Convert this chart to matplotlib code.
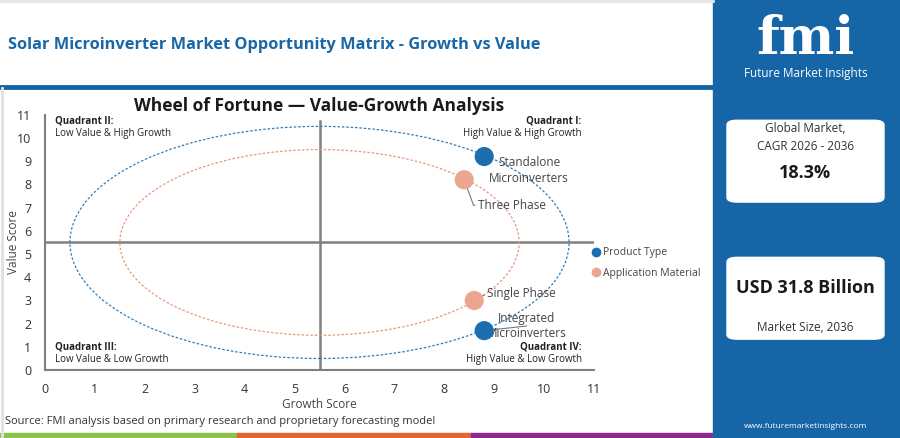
import matplotlib
matplotlib.use('Agg')
import matplotlib.pyplot as plt
from matplotlib.patches import Ellipse, FancyBboxPatch, Rectangle
from matplotlib.lines import Line2D

plt.rcParams['font.family'] = ['Open Sans', 'DejaVu Sans']

# data
names = ["Standalone\nMicroinverters", "Three Phase", "Single Phase", "Integrated\nMicroinverters"]
groups = ["Product Type", "Application Material", "Application Material", "Product Type"]
growth = [8.8, 8.4, 8.6, 8.8]
value = [9.2, 8.2, 3.0, 1.7]
label_pos = [(9.7, 8.6), (9.35, 7.1), (9.55, 3.3), (9.65, 1.9)]
ring_radius = {"Product Type": 5.0, "Application Material": 4.0}
colors = {"Product Type": "#1b6fb1", "Application Material": "#eca58f"}
ring_colors = {"Product Type": "#2f7db8", "Application Material": "#e9967f"}

cagr = "18.3%"
market_size = "USD 31.8 Billion"

blue = "#1565a7"

fig = plt.figure(figsize=(9, 4.38), dpi=100)

# header
fig.text(0.009, 0.897, "Solar Microinverter Market Opportunity Matrix - Growth vs Value",
         fontsize=11.8, fontweight='bold', color="#1a67a6", va='center')
fig.add_artist(Line2D([0, 0.792], [0.802, 0.802], color=blue, lw=3.5))
fig.add_artist(Line2D([0, 0.792], [0.997, 0.997], color="#e6e6e6", lw=2))
fig.add_artist(Line2D([0.002, 0.002], [0.0, 0.8], color="#e0e0e0", lw=2))

# bottom colour strip
fig.add_artist(Rectangle((0, 0), 0.263, 0.012, color="#8bc34a", transform=fig.transFigure))
fig.add_artist(Rectangle((0.263, 0), 0.26, 0.012, color="#e4652f", transform=fig.transFigure))
fig.add_artist(Rectangle((0.523, 0), 0.27, 0.012, color="#8e2a8f", transform=fig.transFigure))

# right panel
fig.add_artist(Rectangle((0.792, 0), 0.208, 1, color=blue, transform=fig.transFigure))
fig.text(0.895, 0.91, "fmi", fontsize=38, fontweight='bold', color='white',
         ha='center', va='center', family='DejaVu Serif')
for yy in [0.87, 0.89, 0.91, 0.93, 0.95]:
    fig.add_artist(Line2D([0.83, 0.96], [yy, yy], color=blue, lw=0.8))
fig.text(0.895, 0.833, "Future Market Insights", fontsize=8.5, color='white', ha='center', va='center')

for y0 in [0.537, 0.224]:
    fig.add_artist(FancyBboxPatch((0.807, y0), 0.176, 0.19, boxstyle="round,pad=0,rounding_size=0.012",
                                  facecolor='white', edgecolor='none', transform=fig.transFigure))
fig.text(0.895, 0.685, "Global Market,\nCAGR 2026 - 2036", fontsize=8.5, color="#333333",
         ha='center', va='center', linespacing=1.5)
fig.text(0.895, 0.605, cagr, fontsize=13, fontweight='bold', color="#1a1a1a", ha='center', va='center')
fig.text(0.895, 0.342, market_size, fontsize=13, fontweight='bold', color="#1a1a1a", ha='center', va='center')
fig.text(0.895, 0.253, "Market Size, 2036", fontsize=8.5, color="#333333", ha='center', va='center')
fig.text(0.895, 0.027, "www.futuremarketinsights.com", fontsize=6, color='white', ha='center', va='center')

fig.text(0.006, 0.038, "Source: FMI analysis based on primary research and proprietary forecasting model",
         fontsize=8, color="#333333", va='center')

# main chart
ax = fig.add_axes([0.05, 0.155, 0.61, 0.583])
ax.set_xlim(0, 11)
ax.set_ylim(0, 11)
for s in ['top', 'right']:
    ax.spines[s].set_visible(False)
for s in ['left', 'bottom']:
    ax.spines[s].set_color("#808080")
    ax.spines[s].set_linewidth(1.5)
ax.set_xticks(range(0, 12))
ax.set_yticks(range(0, 12))
ax.tick_params(length=0, labelsize=9, colors="#333333")
ax.tick_params(axis='x', pad=9)
ax.tick_params(axis='y', pad=10)
ax.set_xlabel("Growth Score", fontsize=8.5, color="#444444")
ax.set_ylabel("Value Score", fontsize=8.5, color="#444444")
ax.xaxis.set_label_coords(0.5, -0.11)
ax.yaxis.set_label_coords(-0.045, 0.5)
ax.set_title("Wheel of Fortune \u2014 Value-Growth Analysis", fontsize=12.5, fontweight='bold',
             color="#1a1a1a", pad=2)

ax.plot([5.5, 5.5], [0, 10.75], color="#808080", lw=1.8, zorder=1)
ax.plot([0, 11], [5.5, 5.5], color="#808080", lw=1.8, zorder=1)

for g, r in ring_radius.items():
    ax.add_patch(Ellipse((5.5, 5.5), 2 * r, 2 * r, fill=False, ls=(0, (2, 1.5)),
                         lw=0.9, edgecolor=ring_colors[g], zorder=2))

for i in range(len(names)):
    ax.scatter(growth[i], value[i], s=190, color=colors[groups[i]], zorder=4, edgecolors='none')

arrow = dict(arrowstyle='-', color="#777777", lw=0.8, shrinkA=0, shrinkB=0)
ax.annotate(names[0], (growth[0], value[0]), xytext=label_pos[0], ha='center', va='center',
            fontsize=8.5, color="#444444", arrowprops=arrow, zorder=3, linespacing=1.25)
ax.annotate(names[1], (growth[1], value[1]), xytext=label_pos[1], ha='center', va='center',
            fontsize=8.5, color="#444444", zorder=3,
            arrowprops=dict(arrow, connectionstyle="angle,angleA=0,angleB=-70,rad=0",
                            relpos=(0, 0.5)))
ax.annotate(names[2], (growth[2], value[2]), xytext=label_pos[2], ha='center', va='center',
            fontsize=8.5, color="#444444", arrowprops=dict(arrow, relpos=(0, 0.5)), zorder=3)
ax.annotate(names[3], (growth[3], value[3]), xytext=label_pos[3], ha='center', va='center',
            fontsize=8.5, color="#444444", arrowprops=arrow, zorder=3, linespacing=1.25)

# quadrant captions
qkw = dict(fontsize=7, color="#222222")
ax.text(0.2, 10.75, "Quadrant II:", fontweight='bold', va='center', **qkw)
ax.text(0.2, 10.2, "Low Value & High Growth", va='center', **qkw)
ax.text(10.75, 10.75, "Quadrant I:", fontweight='bold', va='center', ha='right', **qkw)
ax.text(10.75, 10.2, "High Value & High Growth", va='center', ha='right', **qkw)
ax.text(0.2, 1.0, "Quadrant III:", fontweight='bold', va='center', **qkw)
ax.text(0.2, 0.45, "Low Value & Low Growth", va='center', **qkw)
ax.text(10.75, 1.0, "Quadrant IV:", fontweight='bold', va='center', ha='right', **qkw)
ax.text(10.75, 0.45, "High Value & Low Growth", va='center', ha='right', **qkw)

handles = [Line2D([], [], marker='o', ls='none', color=colors[g], markersize=6, label=g)
           for g in ring_radius]
ax.legend(handles=handles, loc='center left', bbox_to_anchor=(0.975, 0.42), frameon=False,
          fontsize=7.5, handletextpad=0.1, labelspacing=0.9, handlelength=1.2,
          labelcolor="#444444")

fig.savefig("out.png", dpi=100)
